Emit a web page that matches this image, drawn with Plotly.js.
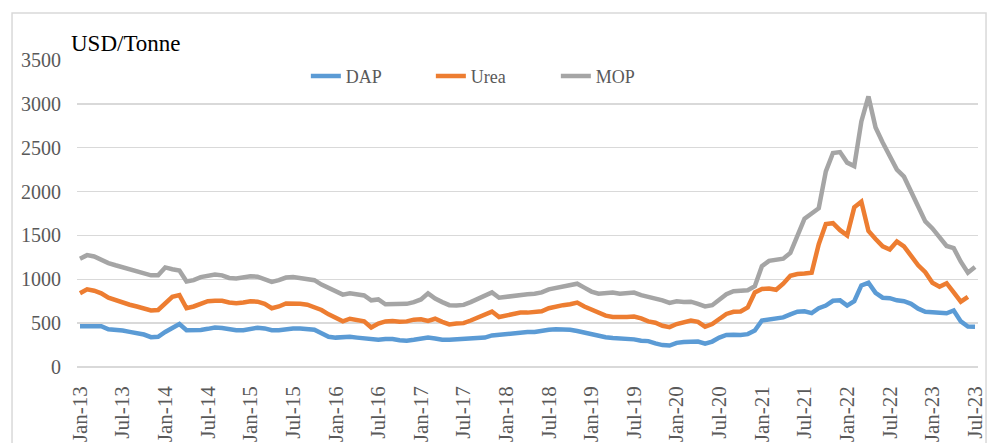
<!DOCTYPE html>
<html>
<head>
<meta charset="utf-8">
<script src="https://cdn.plot.ly/plotly-3.0.1.min.js"></script>
<style>
html,body{margin:0;padding:0;background:#fff;}
#chart{width:987px;height:443px;}
</style>
</head>
<body>
<div id="chart"></div>
<script>
// Monthly labels Jan-13 .. Jul-23
var monthNames = ["Jan","Feb","Mar","Apr","May","Jun","Jul","Aug","Sep","Oct","Nov","Dec"];
var categories = [];
for (var yr = 13; yr <= 23; yr++) {
  for (var m = 0; m < 12; m++) {
    if (yr === 23 && m > 6) break;
    categories.push(monthNames[m] + "-" + yr);
  }
}
var tickLabels = categories.filter(function(c){ return c.indexOf("Jan") === 0 || c.indexOf("Jul") === 0; });

var dap = [465,468,470,465,430,425,415,400,385,370,340,345,400,450,490,420,418,423,435,450,445,430,420,420,
  435,448,440,420,418,430,440,440,435,425,385,345,335,340,345,335,325,310,310,320,320,305,300,310,
  325,335,325,310,310,315,320,325,330,335,360,370,375,380,390,398,400,415,425,430,432,425,410,390,
  380,360,340,330,325,325,315,300,295,270,250,245,275,285,290,290,265,290,335,365,368,365,375,415,
  530,545,555,565,600,630,635,615,670,700,755,760,700,750,930,960,845,790,785,760,750,720,665,630,
  625,618,613,645,520,462,460];
var urea = [840,885,870,840,790,760,735,710,690,665,645,650,720,800,820,670,690,720,750,755,755,735,727,735,
  750,745,720,670,690,725,725,720,710,680,650,600,560,520,550,535,520,450,495,520,525,515,520,540,
  545,525,550,515,485,495,500,530,565,595,632,570,590,610,620,620,625,635,670,690,705,715,735,690,
  655,610,585,570,565,570,575,555,520,505,470,455,490,510,530,515,460,490,545,605,630,632,680,
  850,890,895,880,950,1040,1060,1065,1075,1400,1630,1640,1560,1500,1820,1885,1550,1460,1375,1340,1430,1375,1270,1160,
  1080,960,915,955,850,745,800];
var mop = [1235,1275,1260,1220,1185,1160,1135,1110,1090,1070,1045,1045,1135,1115,1100,975,990,1025,1040,1055,1045,1015,1010,1020,
  1035,1030,1005,970,990,1020,1025,1015,1010,990,940,900,860,825,840,830,815,760,770,715,715,715,720,740,
  770,840,780,740,705,700,708,740,780,810,850,790,800,820,830,830,835,850,885,900,915,925,950,905,
  860,835,840,850,835,840,848,820,800,790,760,730,750,740,745,720,690,705,760,830,865,870,875,920,
  1150,1210,1225,1235,1300,1480,1690,1750,1810,2230,2440,2450,2330,2290,2800,3085,2730,2560,2400,2250,2170,1990,1810,1660,
  1580,1480,1380,1355,1200,1075,1140];

var seriesNames = ["DAP","Urea","MOP"];
var seriesColors = ["#5B9BD5","#ED7D31","#A5A5A5"];
var seriesData = [dap, urea, mop];

var traces = seriesData.map(function(vals, k){
  return {
    x: categories, y: vals, type: "scatter", mode: "lines", name: seriesNames[k],
    line: {color: seriesColors[k], width: 4.5}
  };
});

var fontFam = "'Liberation Serif', 'Times New Roman', serif";
var layout = {
  width: 987, height: 443,
  margin: {l: 77, r: 9, t: 60, b: 76},
  paper_bgcolor: "#fff", plot_bgcolor: "#fff",
  font: {family: fontFam, color: "#595959", size: 18},
  showlegend: true,
  legend: {orientation: "h", x: 0.254, xanchor: "left", y: 0.947, yanchor: "middle",
    font: {family: fontFam, size: 18, color: "#595959"}, bgcolor: "rgba(0,0,0,0)",
    entrywidth: 80, entrywidthmode: "pixels", traceorder: "normal"},
  xaxis: {
    type: "category", range: [-0.42, 126.42],
    tickmode: "array", tickvals: tickLabels, ticktext: tickLabels,
    tickangle: -90, showgrid: false, zeroline: false, showline: false, ticks: "",
    ticklabelstandoff: 14,
    tickfont: {family: fontFam, size: 21, color: "#595959"}
  },
  yaxis: {
    range: [0, 3500], tickvals: [0,500,1000,1500,2000,2500,3000,3500],
    showgrid: true, gridcolor: "#d9d9d9", gridwidth: 1.5, zeroline: true, zerolinecolor: "#d9d9d9", zerolinewidth: 1.5,
    showline: false, ticks: "", ticklabelstandoff: 15,
    tickfont: {family: fontFam, size: 20, color: "#595959"}
  },
  annotations: [{
    text: "USD/Tonne", xref: "paper", yref: "paper", x: -0.009, y: 1.055,
    xanchor: "left", yanchor: "middle", showarrow: false,
    font: {family: fontFam, size: 23, color: "#000"}
  }],
  shapes: [{
    type: "rect", xref: "paper", yref: "paper",
    x0: -0.0721, x1: 1.0089, y0: -0.35, y1: 1.153,
    line: {color: "#d9d9d9", width: 1.5}, fillcolor: "rgba(0,0,0,0)", layer: "below"
  }]
};

Plotly.newPlot("chart", traces, layout, {displayModeBar: false, staticPlot: true});
</script>
</body>
</html>
